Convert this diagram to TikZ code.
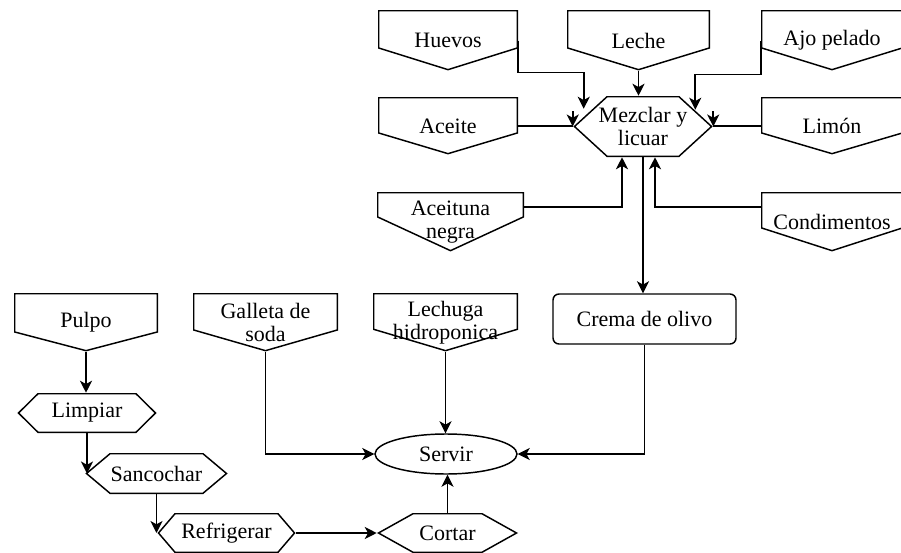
\documentclass[tikz,border=0pt]{standalone}
\usepackage{fontspec}
\newfontfamily\letra{Liberation Serif}
\usetikzlibrary{calc,arrows.meta,shapes.geometric}
\newcommand{\ppbb}{path picture bounding box}
\tikzstyle{caja}=[inner sep=0pt, align=center, font=\letra\fontsize{16.5}{17}\selectfont]
\tikzstyle{contorno}=[line width=1.1pt]
\tikzstyle{flecha}=[line width=1.2pt, -{Stealth[length=9pt,width=9pt,inset=2.5pt]}]
\tikzset{
  entrada/.style={caja, path picture={\draw[contorno]
      ([shift={(0.55pt,-0.55pt)}]\ppbb.north west) -- ([shift={(-0.55pt,-0.55pt)}]\ppbb.north east)
      -- ([shift={(-0.55pt,#1)}]\ppbb.south east) -- ([yshift=1pt]\ppbb.south)
      -- ([shift={(0.55pt,#1)}]\ppbb.south west) -- cycle;}},
  proceso/.style={caja, path picture={\draw[contorno]
      ([xshift=1.1pt]\ppbb.west) -- ([shift={(#1,-0.55pt)}]\ppbb.north west)
      -- ([shift={(-#1,-0.55pt)}]\ppbb.north east) -- ([xshift=-1.1pt]\ppbb.east)
      -- ([shift={(-#1,0.55pt)}]\ppbb.south east) -- ([shift={(#1,0.55pt)}]\ppbb.south west) -- cycle;}},
}

\begin{document}
\begin{tikzpicture}[x=0.75pt,y=-0.75pt]
    \useasboundingbox (0,0) rectangle (901,553);

    % Crema de olivo
    \node[entrada=17.25pt, minimum width=105pt, minimum height=45.75pt] (huevos) at (448,40.5) {Huevos};
    \node[entrada=17.25pt, minimum width=107.25pt, minimum height=45.75pt] (leche) at (638.5,40.5) {Leche};
    \node[entrada=17.25pt, minimum width=106.5pt, minimum height=45.75pt] (ajo) at (832,40.5) {Ajo pelado};
    \node[entrada=16.5pt, minimum width=105pt, minimum height=43.5pt] (aceite) at (448,126) {Aceite};
    \node[entrada=16.5pt, minimum width=106.5pt, minimum height=43.5pt] (limon) at (832,126) {Limón};
    \node[entrada=26.25pt, minimum width=110.25pt, minimum height=45pt] (aceituna) at (450.5,222) {Aceituna\\negra};
    \node[entrada=18pt, minimum width=106.5pt, minimum height=45pt] (condimentos) at (832,222) {Condimentos};

    \node[proceso=25.5pt, minimum width=105pt, minimum height=45.75pt] (mezclar) at (643,126.5) {Mezclar y\\licuar};
    \node[caja, draw, line width=1.1pt, rounded corners=4.5pt, minimum width=137.25pt, minimum height=37.5pt] (crema) at (644.5,319) {Crema de olivo};

    % Pulpo
    \node[entrada=15pt, minimum width=108pt, minimum height=44.25pt] (pulpo) at (86,322.5) {Pulpo};
    \node[proceso=15.75pt, minimum width=105pt, minimum height=30pt] (limpiar) at (87,413) {Limpiar};
    \node[proceso=18.75pt, minimum width=107.25pt, minimum height=30.75pt] (sancochar) at (156.5,473.5) {Sancochar};
    \node[proceso=13.5pt, minimum width=104.25pt, minimum height=30pt] (refrigerar) at (226.5,533) {Refrigerar};
    \node[proceso=27pt, minimum width=105.75pt, minimum height=30pt] (cortar) at (447.5,533) {Cortar};

    % Acompañantes
    \node[entrada=16.5pt, minimum width=108.75pt, minimum height=44.25pt] (galleta) at (265.5,322.5) {Galleta de\\soda};
    \node[entrada=17pt, minimum width=108.75pt, minimum height=44.25pt] (lechuga) at (445.5,322.5) {Lechuga\\hidroponica};
    \node[caja, draw, ellipse, line width=1.1pt, minimum width=106.5pt, minimum height=30pt] (servir) at (446,454) {Servir};

    \draw[flecha] (huevos.east) -- ++(0,32) -| ($(mezclar.north west)+(11,13)$);
    \draw[flecha] (leche.south) -- (leche.south |- mezclar.north);
    \draw[flecha] (ajo.west) -- ++(0,34) -| ($(mezclar.north east)+(-18,14)$);
    \draw[flecha] (aceite.east) -- (aceite.east -| mezclar.west) ++(0,-15) -- (mezclar.west);
    \draw[flecha] (limon.west) -- (limon.west -| mezclar.east) ++(0,-15) -- (mezclar.east);
    \draw[flecha] ($(aceituna.north east)+(0,15)$) -| ($(mezclar.south)+(-21,0)$);
    \draw[flecha] ($(condimentos.north west)+(0,15)$) -| ($(mezclar.south)+(12,0)$);
    \draw[flecha] (mezclar.south) -- (mezclar.south |- crema.north);
    \draw[flecha] (crema.south) |- (servir.east);

    \draw[flecha] (pulpo.south) -- (pulpo.south |- limpiar.north);
    \draw[flecha] (limpiar.south) -- (limpiar.south |- sancochar.west);
    \draw[flecha] (sancochar.south) -- (sancochar.south |- refrigerar.west);
    \draw[flecha] (refrigerar.east) -- (cortar.west);
    \draw[flecha] (cortar.north) -- (cortar.north |- servir.south);

    \draw[flecha] (galleta.south) |- (servir.west);
    \draw[flecha] (lechuga.south) -- (lechuga.south |- servir.north);

\end{tikzpicture}
\end{document}
